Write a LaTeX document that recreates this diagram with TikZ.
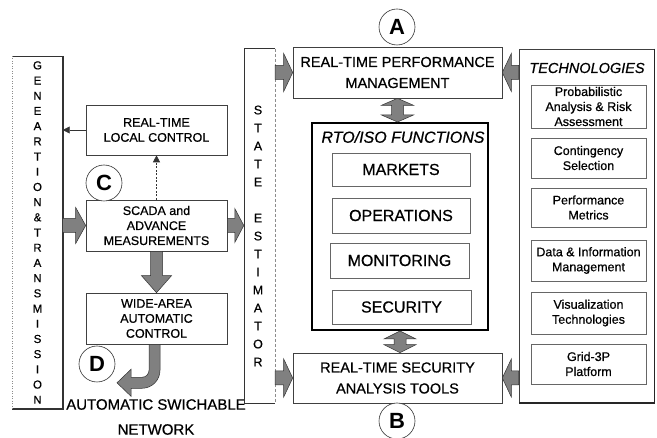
\documentclass[tikz,border=0pt]{standalone}
\usepackage{fontspec}
\setmainfont{Liberation Sans}[UprightFeatures={FakeBold=0.6}, ItalicFeatures={FakeBold=0.6}]
\usetikzlibrary{calc,arrows.meta}

% straight block arrow: from, to, half body width, half head width, head length
\newcommand{\blockarrow}[5]{%
  \draw[blockarr] let \p1=(#1), \p2=(#2),
      \n1={veclen(\x2-\x1,\y2-\y1)}, \n2={atan2(\y2-\y1,\x2-\x1)} in
    ($(\p1)+({\n2+90}:#3)$)
    -- ($(\p1)+(\n2:{\n1-#5})+({\n2+90}:#3)$)
    -- ($(\p1)+(\n2:{\n1-#5})+({\n2+90}:#4)$)
    -- (\p2)
    -- ($(\p1)+(\n2:{\n1-#5})+({\n2-90}:#4)$)
    -- ($(\p1)+(\n2:{\n1-#5})+({\n2-90}:#3)$)
    -- ($(\p1)+({\n2-90}:#3)$) -- cycle;}

% two-headed block arrow: from, to, half body width, half head width, head length
\newcommand{\dblarrow}[5]{%
  \draw[blockarr] let \p1=(#1), \p2=(#2),
      \n1={veclen(\x2-\x1,\y2-\y1)}, \n2={atan2(\y2-\y1,\x2-\x1)} in
    (\p1)
    -- ($(\p1)+(\n2:#5)+({\n2+90}:#4)$)
    -- ($(\p1)+(\n2:#5)+({\n2+90}:#3)$)
    -- ($(\p1)+(\n2:{\n1-#5})+({\n2+90}:#3)$)
    -- ($(\p1)+(\n2:{\n1-#5})+({\n2+90}:#4)$)
    -- (\p2)
    -- ($(\p1)+(\n2:{\n1-#5})+({\n2-90}:#4)$)
    -- ($(\p1)+(\n2:{\n1-#5})+({\n2-90}:#3)$)
    -- ($(\p1)+(\n2:#5)+({\n2-90}:#3)$)
    -- ($(\p1)+(\n2:#5)+({\n2-90}:#4)$)
    -- cycle;}

\tikzset{
  box/.style={draw=black!75, line width=0.6pt, fill=white, inner sep=0pt, align=center},
  subbox/.style={draw=black!60, line width=0.5pt, inner sep=0pt, align=center},
  blockarr/.style={draw=black!80, line width=0.5pt, fill=black!50},
  badge/.style={circle, draw=black!80, line width=0.6pt, fill=white,
    minimum size=36pt, inner sep=0pt, font=\fontsize{22}{22}\selectfont\bfseries},
  thinarr/.style={draw=black!80, line width=0.6pt, -{Triangle[length=7pt,width=7pt]}},
  fsmall/.style={font=\fontsize{12.5}{15}\selectfont},
  fmid/.style={font=\fontsize{14.5}{21}\selectfont},
  fbig/.style={font=\fontsize{16}{19}\selectfont},
}

\begin{document}
\begin{tikzpicture}[x=1pt,y=1pt]
\useasboundingbox (0,0) rectangle (657,-438);

% ---- generation & transmission column ----
\node[inner sep=0pt, minimum width=50pt, minimum height=353pt, align=center,
      font=\fontsize{11.5}{15.2}\selectfont] (gt) at (37.5,-232.5)
  {G\\E\\N\\E\\A\\R\\T\\I\\O\\N\\\&\\T\\R\\A\\N\\S\\M\\I\\S\\S\\I\\O\\N};
\draw[black!80, line width=0.5pt] (gt.north west) -- (gt.north east);
\draw[black!80, line width=1.6pt] (gt.north east) -- (gt.south east) -- (gt.south west);
\draw[black!45, line width=0.5pt, dotted] (gt.north west) -- (gt.south west);

% ---- local control chain ----
\node[box, fsmall, minimum width=141pt, minimum height=50pt] (lc) at (156.5,-130)
  {REAL-TIME\\LOCAL CONTROL};
\node[box, fsmall, minimum width=141pt, minimum height=51pt] (scada) at (156.5,-225.5)
  {SCADA and\\ADVANCE\\MEASUREMENTS};
\node[box, fsmall, minimum width=141pt, minimum height=51pt] (wide) at (156.5,-318.5)
  {WIDE-AREA\\AUTOMATIC\\CONTROL};
\node[badge] (c) at (104,-183) {C};
\node[badge] (d) at (97,-364) {D};
\node[align=center, font=\fontsize{15}{25}\selectfont] (net) at (156,-417)
  {AUTOMATIC SWICHABLE\\NETWORK};

\draw[thinarr] (lc.west) -- (lc.west -| gt.east);
\draw[thinarr, dash pattern=on 2pt off 1.5pt] (scada.north) -- (lc.south);
\blockarrow{scada.west -| gt.east}{scada.west}{7}{18}{10}
\blockarrow{scada.south}{wide.north}{6}{15}{17}

% curved arrow from wide-area control towards the switchable network
\draw[blockarr] ([xshift=3.5pt]wide.south) -- ++(0,-26)
  arc[start angle=0, end angle=-90, radius=18] -- ++(-11,0) -- ++(0,-8)
  -- ++(-14,13.5) -- ++(14,13.5) -- ++(0,-8) -- ++(11,0)
  arc[start angle=-90, end angle=0, radius=7] -- ++(0,26) -- cycle;

% ---- state estimator column ----
\node[inner sep=0pt, minimum width=31pt, minimum height=354pt] (est) at (259.5,-226) {};
\node[align=center, font=\fontsize{12.5}{18}\selectfont] (esttext) at (258,-236)
  {S\\T\\A\\T\\E\\[18pt]E\\S\\T\\I\\M\\A\\T\\O\\R};
\draw[black!80, line width=0.6pt] (est.north east) -- (est.north west)
  -- (est.south west) -- (est.south east);
\draw[black!45, line width=0.5pt, densely dashed] (est.north east) -- (est.south east);
\blockarrow{scada.east}{scada.east -| est.west}{7}{17}{9}

% ---- central column ----
\node[box, fmid, minimum width=209pt, minimum height=51pt] (perf) at (397.5,-72.5)
  {REAL-TIME PERFORMANCE\\MANAGEMENT};
\node[box, fmid, minimum width=209pt, minimum height=50pt] (sec) at (397.5,-378)
  {REAL-TIME SECURITY\\ANALYSIS TOOLS};
\node[badge] (a) at (397,-27) {A};
\node[badge] (b) at (397,-421) {B};

\node[draw=black, line width=2pt, fill=white, minimum width=176pt, minimum height=207pt,
      inner sep=0pt] (rto) at (400,-226.5) {};
\node[font=\fontsize{16}{19}\selectfont\itshape] (rtotitle) at (403,-137) {RTO/ISO FUNCTIONS};
\node[subbox, fbig, minimum width=138pt, minimum height=33pt] (mkt) at (401,-169.5) {MARKETS};
\node[subbox, fbig, minimum width=138pt, minimum height=35pt] (ops) at (401,-215.5) {OPERATIONS};
\node[subbox, fbig, minimum width=139pt, minimum height=35pt] (mon) at (399.5,-260.5) {MONITORING};
\node[subbox, fbig, minimum width=139pt, minimum height=34pt] (secu) at (401.5,-307) {SECURITY};

\dblarrow{perf.south}{perf.south |- rto.north}{6}{16}{7}
\dblarrow{rto.south}{rto.south |- sec.north}{6}{16}{8}

% ---- technologies column ----
\node[draw=black!75, line width=0.6pt, fill=white, minimum width=135pt, minimum height=354pt,
      inner sep=0pt] (tech) at (586.5,-226) {};
\draw[black!85, line width=1.6pt] (tech.north east) -- (tech.south east) -- (tech.south west);
\node[font=\fontsize{14.5}{17}\selectfont\itshape] (techtitle) at (587,-68) {TECHNOLOGIES};
\node[subbox, fsmall, minimum width=115pt, minimum height=43pt] (t1) at (588.5,-106.5)
  {Probabilistic\\Analysis \& Risk\\Assessment};
\node[subbox, fsmall, minimum width=115pt, minimum height=40pt] (t2) at (588.5,-158)
  {Contingency\\Selection};
\node[subbox, fsmall, minimum width=115pt, minimum height=39pt] (t3) at (588.5,-207.5)
  {Performance\\Metrics};
\node[subbox, fsmall, minimum width=115pt, minimum height=41pt] (t4) at (588.5,-260.5)
  {Data \& Information\\Management};
\node[subbox, fsmall, minimum width=115pt, minimum height=42pt] (t5) at (588.5,-313)
  {Visualization\\Technologies};
\node[subbox, fsmall, minimum width=115pt, minimum height=40pt] (t6) at (588.5,-364)
  {Grid-3P\\Platform};

% ---- inputs to performance management and security analysis ----
\blockarrow{perf.west -| est.east}{perf.west}{7}{19}{9}
\blockarrow{perf.east -| tech.west}{perf.east}{7}{19}{9}
\blockarrow{sec.west -| est.east}{sec.west}{7}{19}{9}
\blockarrow{sec.east -| tech.west}{sec.east}{7}{19}{9}
\end{tikzpicture}
\end{document}
